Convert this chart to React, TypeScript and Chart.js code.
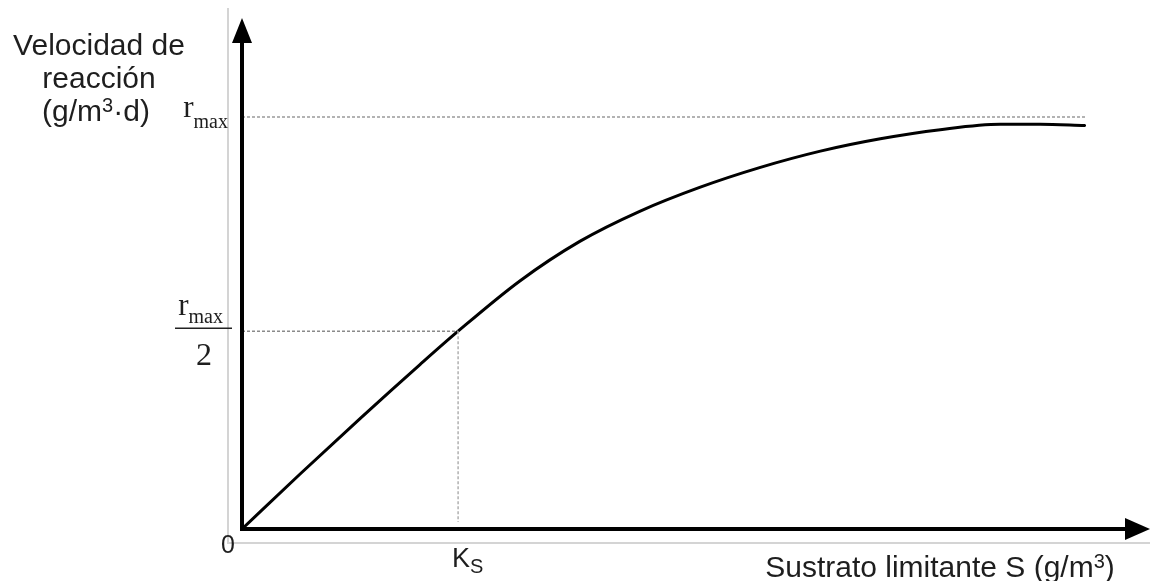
import React, { useEffect, useRef } from "react";
import { Chart, registerables } from "chart.js";

Chart.register(...registerables);

// Substrate S (arbitrary units) and reaction rate r (fraction of r_max)
const substrate = [0, 0.64, 1.3, 1.96, 2.38, 3.06, 3.72, 4.38, 5.04, 5.7, 6.37, 7.03, 7.69, 8.35, 8.79, 9.28];
const rate = [0, 0.1335, 0.268, 0.399, 0.48, 0.602, 0.698, 0.771, 0.829, 0.877, 0.917, 0.947, 0.969, 0.982, 0.982, 0.979];

const KS = 2.38;
const HALF_RATE = 0.48;
const RMAX = 1;
const RMAX_LINE_END = 9.3;
const X_MAX = 10;
const Y_MAX = 1.24;

const yTitleLines = ["Velocidad de", "reacción"];
const xTitleParts = ["Sustrato limitante S (g/m", "3", ")"];
const yUnitParts = ["(g/m", "3", "·d)"];
const originLabel = "0";

const SANS = "'Liberation Sans', Arial, sans-serif";
const SERIF = "'Liberation Serif', 'Times New Roman', serif";

function drawSuperText(ctx: CanvasRenderingContext2D, parts: string[], cx: number, base: number, size: number, supSize: number, rise: number) {
  ctx.font = `${size}px ${SANS}`;
  const w0 = ctx.measureText(parts[0]).width;
  const w2 = ctx.measureText(parts[2]).width;
  ctx.font = `${supSize}px ${SANS}`;
  const w1 = ctx.measureText(parts[1]).width;
  const total = w0 + w1 + w2;
  let x = cx - total / 2;
  ctx.textAlign = "left";
  ctx.font = `${size}px ${SANS}`;
  ctx.fillText(parts[0], x, base);
  x += w0;
  ctx.font = `${supSize}px ${SANS}`;
  ctx.fillText(parts[1], x, base - rise);
  x += w1;
  ctx.font = `${size}px ${SANS}`;
  ctx.fillText(parts[2], x, base);
}

const annotationPlugin = {
  id: "annotations",
  beforeDatasetsDraw(chart: any) {
    const { ctx, scales } = chart;
    const x0 = scales.x.getPixelForValue(0);
    const y0 = scales.y.getPixelForValue(0);
    const xEnd = scales.x.getPixelForValue(X_MAX);
    const yTop = scales.y.getPixelForValue(Y_MAX);
    ctx.save();
    ctx.strokeStyle = "#d4d4d4";
    ctx.lineWidth = 2;
    ctx.beginPath();
    ctx.moveTo(x0 - 14, yTop - 10);
    ctx.lineTo(x0 - 14, y0 + 15);
    ctx.moveTo(x0 - 14, y0 + 14);
    ctx.lineTo(xEnd, y0 + 14);
    ctx.stroke();
    ctx.restore();
  },
  afterDatasetsDraw(chart: any) {
    const { ctx, scales } = chart;
    const x0 = scales.x.getPixelForValue(0);
    const y0 = scales.y.getPixelForValue(0);
    const xEnd = scales.x.getPixelForValue(X_MAX);
    const yTop = scales.y.getPixelForValue(Y_MAX);
    ctx.save();
    ctx.strokeStyle = "#000";
    ctx.fillStyle = "#000";
    ctx.lineWidth = 4;
    ctx.lineCap = "butt";
    ctx.beginPath();
    ctx.moveTo(x0, y0 + 2);
    ctx.lineTo(x0, yTop + 20);
    ctx.moveTo(x0 - 2, y0);
    ctx.lineTo(xEnd - 20, y0);
    ctx.stroke();
    ctx.beginPath();
    ctx.moveTo(x0, yTop);
    ctx.lineTo(x0 - 10, yTop + 25);
    ctx.lineTo(x0 + 10, yTop + 25);
    ctx.closePath();
    ctx.fill();
    ctx.beginPath();
    ctx.moveTo(xEnd, y0);
    ctx.lineTo(xEnd - 25, y0 - 11);
    ctx.lineTo(xEnd - 25, y0 + 11);
    ctx.closePath();
    ctx.fill();

    ctx.fillStyle = "#1e1e1e";
    ctx.textBaseline = "alphabetic";
    ctx.font = `30px ${SANS}`;
    ctx.textAlign = "center";
    ctx.fillText(yTitleLines[0], 99, 55);
    ctx.fillText(yTitleLines[1], 99, 88);
    drawSuperText(ctx, yUnitParts, 96, 121, 30, 20, 9);
    drawSuperText(ctx, xTitleParts, 940, 577, 30, 20, 9);

    ctx.font = `25px ${SANS}`;
    ctx.textAlign = "right";
    ctx.fillText(originLabel, x0 - 7, y0 + 24);

    const xk = scales.x.getPixelForValue(KS);
    ctx.textAlign = "left";
    ctx.font = `27px ${SANS}`;
    ctx.fillText("K", xk - 6, y0 + 38);
    const kw = ctx.measureText("K").width;
    ctx.font = `20px ${SANS}`;
    ctx.fillText("S", xk - 6 + kw, y0 + 44);

    const yr = scales.y.getPixelForValue(RMAX);
    ctx.font = `20px ${SERIF}`;
    const mw = ctx.measureText("max").width;
    ctx.textAlign = "right";
    ctx.fillText("max", x0 - 14, yr + 11);
    ctx.font = `31px ${SERIF}`;
    ctx.fillText("r", x0 - 14 - mw, yr);

    const yh = scales.y.getPixelForValue(HALF_RATE);
    ctx.font = `20px ${SERIF}`;
    ctx.fillText("max", x0 - 19, yh - 8);
    ctx.font = `31px ${SERIF}`;
    ctx.fillText("r", x0 - 19 - mw, yh - 16);
    ctx.strokeStyle = "#222";
    ctx.lineWidth = 1.5;
    ctx.beginPath();
    ctx.moveTo(x0 - 67, yh - 3);
    ctx.lineTo(x0 - 10, yh - 3);
    ctx.stroke();
    ctx.textAlign = "center";
    ctx.font = `32px ${SERIF}`;
    ctx.fillText("2", x0 - 38, yh + 34);
    ctx.restore();
  },
};

export default function App() {
  const canvasRef = useRef<HTMLCanvasElement | null>(null);

  useEffect(() => {
    if (!canvasRef.current) return;
    const curve = substrate.map((s, i) => ({ x: s, y: rate[i] }));
    const chart = new Chart(canvasRef.current, {
      type: "line",
      data: {
        datasets: [
          {
            data: [{ x: 0, y: RMAX }, { x: RMAX_LINE_END, y: RMAX }],
            borderColor: "#9a9a9a",
            borderWidth: 1.5,
            borderDash: [3, 2],
            pointRadius: 0,
          },
          {
            data: [{ x: 0, y: HALF_RATE }, { x: KS, y: HALF_RATE }],
            borderColor: "#8a8a8a",
            borderWidth: 1.5,
            borderDash: [3, 2],
            pointRadius: 0,
          },
          {
            data: [{ x: KS, y: HALF_RATE }, { x: KS, y: 0.017 }],
            borderColor: "#b0b0b0",
            borderWidth: 1.5,
            borderDash: [3, 2],
            pointRadius: 0,
          },
          {
            data: curve,
            borderColor: "#000",
            borderWidth: 3,
            pointRadius: 0,
            cubicInterpolationMode: "monotone",
            borderCapStyle: "round",
          },
        ],
      },
      options: {
        responsive: false,
        animation: false,
        layout: { padding: { left: 242, right: 1, top: 18, bottom: 52 } },
        plugins: { legend: { display: false }, tooltip: { enabled: false }, title: { display: false } },
        scales: {
          x: { type: "linear", min: 0, max: X_MAX, display: false },
          y: { type: "linear", min: 0, max: Y_MAX, display: false },
        },
      },
      plugins: [annotationPlugin],
    });
    return () => chart.destroy();
  }, []);

  return (
    <div style={{ position: "fixed", left: 0, top: 0, width: 1151, height: 581, background: "#fff" }}>
      <canvas ref={canvasRef} width={1151} height={581} />
    </div>
  );
}
